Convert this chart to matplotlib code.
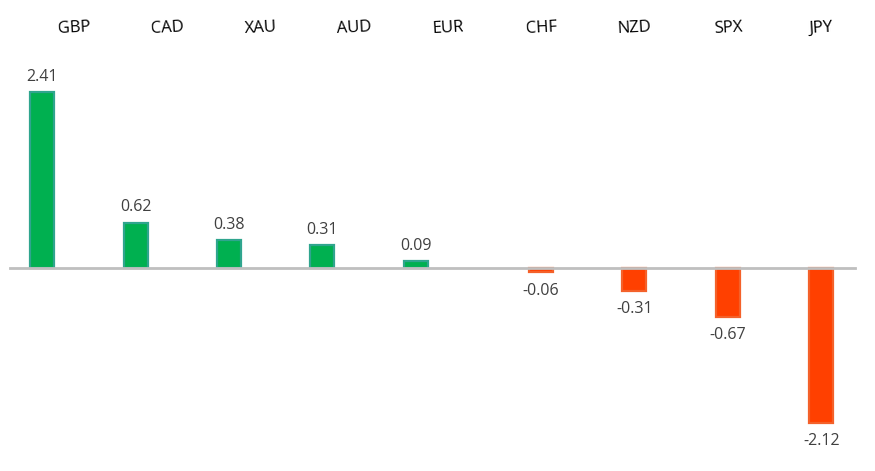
import numpy as np
import matplotlib
matplotlib.use("Agg")
import matplotlib.pyplot as plt

categories = ["GBP", "CAD", "XAU", "AUD", "EUR", "CHF", "NZD", "SPX", "JPY"]
values = [2.41, 0.62, 0.38, 0.31, 0.09, -0.06, -0.31, -0.67, -2.12]
value_labels = ["2.41", "0.62", "0.38", "0.31", "0.09", "-0.06", "-0.31", "-0.67", "-2.12"]

W, H = 875, 471
fig = plt.figure(figsize=(W / 100, H / 100), dpi=100)
ax = fig.add_axes([0, 0, 1, 1])

unit = 93.4       # px per category
x0_px = 74        # px of first category label
zero_px = 268     # px from top of zero line
ppu = 73.0        # px per value unit

ax.set_xlim(-x0_px / unit, (W - x0_px) / unit)
ax.set_ylim(-(H - zero_px) / ppu, zero_px / ppu)
ax.axis("off")

vals = np.array(values)
pos = np.arange(len(categories), dtype=float)
bar_x = pos + np.where(vals > 0, -0.34, 0.0)
bar_w = 24 / unit

for xi, v in zip(bar_x, vals):
    if v > 0:
        face, edge = "#00B050", "#2FA58E"
    else:
        face, edge = "#FF4000", "#F4612A"
    ax.bar(xi, v, width=bar_w, color=face, edgecolor=edge, linewidth=1.6, zorder=2)

ax.axhline(0, xmin=10 / W, xmax=855 / W, color="#BFBFBF", linewidth=2, zorder=3)

for xi, v, lab in zip(bar_x, vals, value_labels):
    y = v + 15.5 / ppu if v > 0 else v - 18.5 / ppu
    ax.text(xi, y, lab, ha="center", va="center", fontsize=11.5,
            color="#404040", family=["Open Sans", "DejaVu Sans"])

for p, c in zip(pos, categories):
    ax.text(p, (zero_px - 28) / ppu, c, ha="center", va="center", fontsize=12,
            color="#000000", rotation=3, family=["Open Sans", "DejaVu Sans"])

fig.savefig("out.png", dpi=100, facecolor="white")
